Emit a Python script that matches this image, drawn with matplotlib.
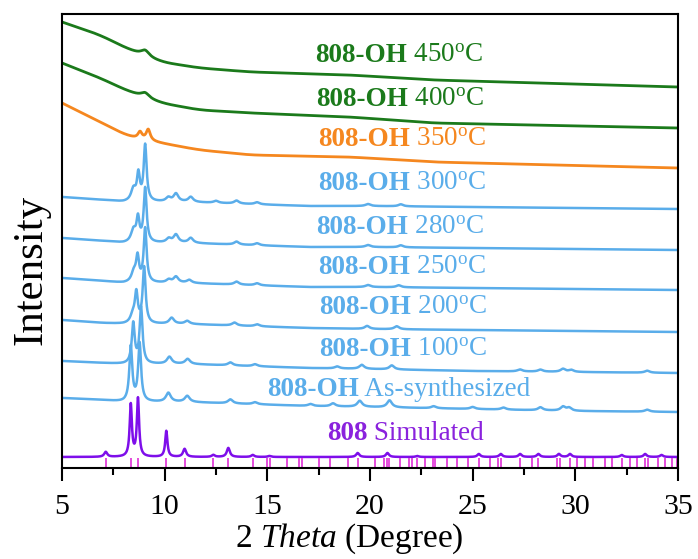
import numpy as np
import matplotlib
matplotlib.use("Agg")
import matplotlib.pyplot as plt

plt.rcParams['font.family'] = ['Liberation Serif', 'DejaVu Serif']
plt.rcParams['mathtext.fontset'] = 'custom'
plt.rcParams['mathtext.rm'] = 'Liberation Serif'
plt.rcParams['mathtext.it'] = 'Liberation Serif:italic'
plt.rcParams['mathtext.bf'] = 'Liberation Serif:bold'

# 2theta grid
tt = np.arange(5, 35.001, 0.01)

# baselines of the heat-treated samples (offset intensity, arbitrary units)
blue_anchor = [5, 7, 8, 11, 14, 17, 20, 25, 30, 35]
base_300 = [271, 268, 266, 266, 264, 262, 262, 261, 260, 259]
base_280 = [230, 227, 225, 225, 223, 221, 221, 220, 219, 218]
base_250 = [190, 187, 185, 185, 183, 181, 181, 180, 179, 178]
base_200 = [148, 145, 144, 144, 142, 140, 139, 138, 137, 136]
base_100 = [107, 105, 104, 104, 102, 100, 99, 97, 96, 95]
base_as = [70, 68, 66, 66, 64, 62, 61, 59, 57, 56]

amorph_anchor = [5, 6.85, 8.3, 9.8, 11.7, 14.2, 19, 23.1, 35]
base_450 = [446, 433, 418, 406, 400, 396, 393, 388, 381]
base_400 = [405, 390, 376, 365, 358, 355, 351, 345, 340]
base_350 = [365, 346, 331, 325, 318, 313, 311, 306, 300]

# peaks: positions / heights
pk_450 = [9.05]
h_450 = [6]
pk_400 = [9.05]
h_400 = [5]
pk_350 = [8.8, 9.2]
h_350 = [7, 11]

pk_300 = [8.48, 8.72, 9.05, 10.18, 10.55, 11.27, 12.5, 13.5, 14.5, 19.9, 21.5]
h_300 = [12, 26, 56, 4, 8, 5, 2, 3, 2, 2, 2]
pk_280 = [8.48, 8.7, 9.05, 10.2, 10.55, 11.27, 13.5, 14.5, 19.9, 21.5]
h_280 = [12, 23, 54, 4, 8, 5, 3, 2, 2, 2]
pk_250 = [8.5, 8.68, 9.05, 10.2, 10.55, 11.2, 13.5, 14.5, 19.9, 21.4]
h_250 = [10, 24, 54, 3, 6, 3, 3, 2, 2, 2]
pk_200 = [8.45, 8.62, 9.0, 10.34, 11.1, 13.4, 14.5, 19.86, 21.3]
h_200 = [8, 29, 56, 6, 3, 3, 2, 3, 3]
pk_100 = [8.47, 8.85, 10.23, 11.12, 13.2, 14.4, 18.4, 19.6, 21.06, 27.3, 28.3, 29.4, 29.8, 33.5]
h_100 = [40, 56, 7, 5, 3, 2, 2, 4, 4, 2, 2, 3, 2, 2]
pk_as = [8.35, 8.78, 10.18, 11.1, 13.2, 14.4, 17.1, 18.2, 19.5, 20.95, 23.1, 25.0, 26.5, 28.3, 29.4, 29.7, 33.5]
h_as = [55, 58, 9, 6, 4, 2, 2, 3, 6, 7, 2, 2, 2, 3, 4, 3, 2]

pk_sim = [7.13, 8.35, 8.70, 10.08, 10.97, 12.37, 13.10, 14.29, 15.1, 19.4, 20.85, 22.3,
          25.3, 26.37, 27.31, 28.2, 29.2, 29.74, 32.26, 33.4, 34.2]
h_sim = [5, 52, 58, 26, 8, 2, 9, 2, 1, 4, 4, 1, 3, 3, 3, 3, 3, 3, 2, 3, 2]
base_sim = 11

sim_ticks = [7.13, 8.35, 8.70, 10.08, 10.97, 12.37, 13.10, 14.29, 14.97, 15.13, 15.98,
             16.56, 16.70, 17.53, 18.05, 18.95, 19.40, 20.25, 20.70, 20.82, 20.94, 21.46,
             21.92, 22.03, 22.28, 22.68, 23.09, 23.18, 23.74, 24.23, 24.79, 25.33, 25.85,
             26.25, 26.37, 27.31, 27.88, 28.20, 29.10, 29.26, 29.74, 30.07, 30.48, 30.88,
             31.45, 31.78, 32.26, 32.67, 32.99, 33.40, 33.56, 34.05, 34.37, 34.70, 34.94]

labels = ['450$^{\\mathrm{o}}$C', '400$^{\\mathrm{o}}$C', '350$^{\\mathrm{o}}$C',
          '300$^{\\mathrm{o}}$C', '280$^{\\mathrm{o}}$C', '250$^{\\mathrm{o}}$C',
          '200$^{\\mathrm{o}}$C', '100$^{\\mathrm{o}}$C', 'As-synthesized']
label_x = [17.32, 17.4, 17.45, 17.45, 17.4, 17.45, 17.5, 17.5, 14.99]
label_y = [413, 368, 328, 285, 240, 200, 160, 118, 78]

green = '#1B7A1B'
orange = '#F5871F'
blue = '#5AADEA'
purple = '#7E0EEA'
magenta = '#E23FD9'


def smooth(y, n):
    yp = np.pad(y, n, mode='reflect', reflect_type='odd')
    k = np.ones(2 * n + 1) / (2 * n + 1)
    return np.convolve(yp, k, mode='valid')


def pattern(bx, by, pos, hgt, hw_main, hw_minor, sm=0):
    y = np.interp(tt, bx, by)
    if sm:
        y = smooth(y, sm)
    for p, h in zip(pos, hgt):
        hw = hw_main if h > 15 else hw_minor
        y = y + h * hw**2 / ((tt - p)**2 + hw**2)
    return y


curves = [
    (pattern(amorph_anchor, base_450, pk_450, h_450, 0.25, 0.25, 60), green),
    (pattern(amorph_anchor, base_400, pk_400, h_400, 0.25, 0.25, 60), green),
    (pattern(amorph_anchor, base_350, pk_350, h_350, 0.12, 0.12, 60), orange),
    (pattern(blue_anchor, base_300, pk_300, h_300, 0.085, 0.14), blue),
    (pattern(blue_anchor, base_280, pk_280, h_280, 0.085, 0.14), blue),
    (pattern(blue_anchor, base_250, pk_250, h_250, 0.085, 0.14), blue),
    (pattern(blue_anchor, base_200, pk_200, h_200, 0.085, 0.14), blue),
    (pattern(blue_anchor, base_100, pk_100, h_100, 0.085, 0.14), blue),
    (pattern(blue_anchor, base_as, pk_as, h_as, 0.085, 0.14), blue),
]

fig = plt.figure(figsize=(6.98, 5.59), dpi=100)
ax = fig.add_axes([62 / 698, 1 - 468 / 559, 616 / 698, 454 / 559])

for i, (y, c) in enumerate(curves):
    ax.plot(tt, y, color=c, lw=2.0 if i < 3 else 1.8)

sim = pattern([5, 35], [base_sim, base_sim], pk_sim, h_sim, 0.065, 0.09)
ax.plot(tt, sim, color=purple, lw=1.8)
ax.vlines(sim_ticks, 1, 10, color=magenta, lw=1.3)

fs = 19.5
for (y, c), lab, lx, ly in zip(curves, labels, label_x, label_y):
    t1 = ax.text(lx, ly, '808-OH', color=c, fontsize=fs, fontweight='bold', va='center')
    ax.annotate(' ' + lab, xy=(1, 0), xycoords=t1, color=c, fontsize=fs, va='bottom')

t1 = ax.text(17.9, 35, '808', color='#8A22DD', fontsize=fs, fontweight='bold', va='center')
ax.annotate(' Simulated', xy=(1, 0), xycoords=t1, color='#8A22DD', fontsize=fs, va='bottom')

ax.set_xlim(5, 35)
ax.set_ylim(0, 454)
ax.set_xticks([5, 10, 15, 20, 25, 30, 35])
ax.set_xticklabels(['5', '10', '15', '20', '25', '30', '35'], fontfamily='Liberation Serif')
ax.set_xticks(np.arange(7.5, 35, 5), minor=True)
ax.set_yticks([])
ax.tick_params(axis='x', which='major', direction='out', length=9, width=1.5, labelsize=21.5, pad=10)
ax.tick_params(axis='x', which='minor', direction='out', length=5, width=1.5)
for s in ax.spines.values():
    s.set_linewidth(1.5)

ax.set_xlabel('2 $\\mathit{Theta}$ (Degree)', fontsize=24, labelpad=0)
ax.xaxis.set_label_coords(0.467, -0.118)
ax.set_ylabel('Intensity', fontsize=31)
ax.yaxis.set_label_coords(-0.018, 0.436)

fig.savefig('out.png', dpi=100)
